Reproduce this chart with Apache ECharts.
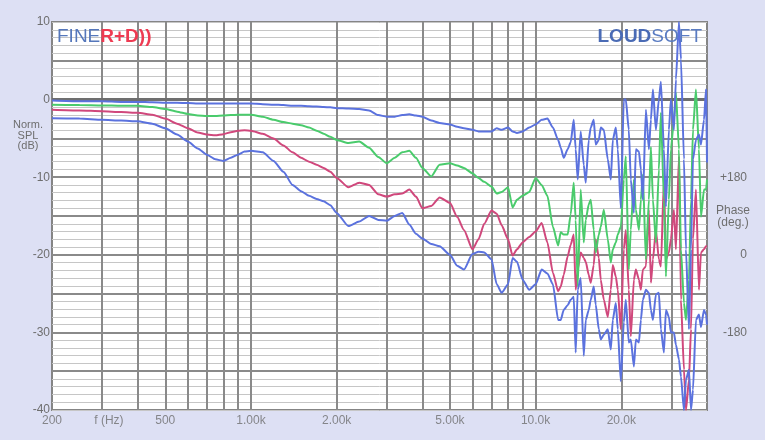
<!DOCTYPE html>
<html><head><meta charset="utf-8">
<script src="https://cdn.jsdelivr.net/npm/echarts@6/dist/echarts.min.js"></script>
<style>html,body{margin:0;padding:0;background:#dde0f4}#c{width:765px;height:440px}</style>
</head><body><div id="c"></div><script>
const freqs = [200,250,300,350,400,450,500,550,600,650,700,750,800,850,900,950,1000,1100,1200,1300,1400,1500,1600,1700,1800,1900,2000,2200,2400,2600,2800,3000,3200,3400,3600,3800,4000,4300,4600,5000,5300,5600,6000,6300,6600,7000,7300,7600,8000,8300,8600,9000,9500,10000,10500,11000,11500,12000,
12250,12550,12960,13280,13610,13830,14060,14400,14760,15000,15370,15620,16000,16260,16670,16940,17360,17930,18370,18670,19130,19440,19920,20410,20740,21250,21600,22140,22500,23060,23430,23810,24400,25000,25410,25830,26460,27100,27550,28230,28690,29390,29870,30610,31110,31880,32400,33200,33740,34570,35140,35710,36580,37480,38100,39040,39690,40000];

const blueTop = [-0.1,-0.2,-0.2,-0.3,-0.3,-0.35,-0.4,-0.4,-0.45,-0.5,
-0.5,-0.5,-0.5,-0.5,-0.5,-0.5,-0.5,-0.6,-0.65,-0.7,
-0.8,-0.8,-0.85,-0.9,-0.95,-1.0,-1.1,-1.15,-1.2,-1.4,
-2.0,-2.2,-2.2,-2.0,-1.9,-2.05,-2.2,-2.7,-3.0,-3.2,
-3.5,-3.7,-3.9,-4.1,-4.1,-4.1,-3.7,-3.9,-3.6,-4.1,
-4.3,-4.1,-3.6,-3.2,-2.6,-2.45,-3.6,-5.2,
-6.2,-7.5,-6.4,-5.5,-2.6,-6.4,-10.3,-4.1,-8.4,-10.7,
-5.2,-3.6,-2.6,-5.8,-5.2,-3.6,-3.9,-7.7,-10.3,-5.2,
-3.6,-6.4,-14.0,0,0,-3.9,-10.3,-14.6,-6.4,-6.7,
-9.0,-12.9,-1.3,-6.4,-2.6,1.3,-3.9,0,2.3,-6.4,
-13.8,-3.9,0,-3.9,2.6,10,5.2,-7.7,-19.3,-29.6,
-19.3,-7.7,-5.2,-4.5,-5.8,-2.6,1.3,-8.1];

const green = [-0.65,-0.7,-0.75,-0.8,-0.8,-0.95,-1.2,-1.55,-1.85,-2.05,
-2.1,-2.1,-2.05,-2.0,-1.95,-1.95,-1.95,-2.2,-2.6,-2.9,
-3.1,-3.3,-3.6,-4.0,-4.4,-4.8,-5.2,-5.6,-5.4,-6.2,
-7.4,-8.2,-7.5,-6.8,-6.6,-7.5,-8.8,-9.9,-8.4,-8.2,
-8.5,-8.8,-9.5,-10.1,-10.6,-11.2,-12.1,-11.9,-11.3,-13.9,
-12.9,-12.4,-11.9,-10.1,-11.0,-12.4,-16.4,-18.8,
-17.1,-17.4,-17.4,-14.8,-10.7,-15.5,-24.1,-11.6,-18.4,-15.5,
-13.5,-12.9,-16.8,-19.7,-17.4,-16.4,-14.2,-18.0,-21.0,-19.3,
-18.4,-17.4,-16.4,-10.3,-7.3,-21.9,-16.8,-10.3,-14.2,-16.8,
-12.9,-9.7,-20.6,-12.9,-6.1,-12.9,-18.4,-9.0,-1.7,-12.9,
-22.8,-12.9,-6.4,-2.6,0.9,-6.4,-19.3,-26.2,-28.4,-23.2,
-12.9,-3.9,1.3,-6.4,-15.1,-11.6,-11.6,-10.3];

const red = [-1.3,-1.4,-1.5,-1.6,-1.7,-1.95,-2.45,-3.1,-3.7,-4.25,
-4.5,-4.6,-4.45,-4.2,-4.0,-3.95,-4.0,-4.4,-5.0,-5.9,
-6.8,-7.5,-8.0,-8.4,-8.8,-9.3,-10.1,-11.3,-10.7,-11.0,
-12.2,-12.5,-12.2,-12.1,-11.6,-12.5,-14.0,-13.7,-12.6,-13.3,
-15.1,-16.8,-19.3,-18.0,-16.0,-14.3,-14.7,-16.2,-18.0,-20.1,
-19.3,-18.4,-17.7,-17.0,-15.9,-18.4,-22.3,-24.7,
-24.1,-22.6,-20.2,-18.7,-17.4,-24.5,-21.9,-19.7,-20.4,-20.9,
-22.6,-23.6,-21.3,-18.0,-20.4,-23.2,-25.8,-28.0,-24.5,-21.3,
-22.8,-24.5,-29.6,-19.3,-16.8,-24.5,-30.5,-23.2,-21.9,-23.2,
-24.5,-21.9,-21.5,-14.2,-23.6,-20.6,-16.8,-20.6,-21.5,-10.3,
-20.6,-19.7,-18.0,-14.2,-19.3,-7.3,-25.8,-34.8,-40,-36.1,
-29.6,-18.0,-11.6,-24.5,-19.7,-19.3,-18.9,-18.9];

const blueLow = [-2.4,-2.45,-2.6,-2.7,-2.8,-3.1,-3.7,-4.5,-5.4,-6.3,
-7.1,-7.7,-7.9,-7.5,-7.1,-6.7,-6.6,-6.8,-7.9,-9.3,
-11.0,-11.8,-12.4,-12.8,-13.1,-13.6,-14.6,-16.3,-15.7,-15.0,
-15.5,-15.6,-15.0,-14.6,-16.1,-17.3,-17.9,-18.6,-18.9,-20.0,
-21.4,-21.9,-19.9,-19.6,-19.7,-20.6,-23.8,-24.9,-23.8,-20.4,
-20.9,-23.2,-24.5,-23.8,-21.9,-22.4,-23.8,-28.4,
-28.4,-27.1,-26.5,-25.8,-25.4,-32.6,-24.5,-23.0,-33.0,-28.4,
-27.1,-25.8,-24.1,-26.4,-29.6,-30.9,-30.3,-29.6,-32.2,-28.4,
-26.2,-29.6,-36.3,-28.7,-25.8,-31.3,-30.9,-34.4,-30.9,-31.3,
-28.4,-25.8,-24.5,-24.9,-27.1,-28.4,-25.1,-24.9,-29.6,-32.6,
-27.1,-28.0,-30.0,-30.0,-31.6,-33.5,-35.7,-40,-36.1,-34.8,
-40,-37.4,-28.4,-27.7,-29.3,-27.1,-27.7,-29.0];

const xTickFreqs = [200, 317, 500, 1000, 2000, 5000, 10000, 20000];
const xTickLabels = ['200', 'f (Hz)', '500', '1.00k', '2.00k', '5.00k', '10.0k', '20.0k'];
const vGridFreqs = [300,400,500,600,700,800,900,1000,2000,3000,4000,5000,6000,7000,8000,9000,10000,20000,30000];
const hMajor = [-35,-30,-25,-20,-15,-10,-5,5];
const phaseTicks = {180: '+180', 0: '0', '-180': '-180'};

const pair = arr => freqs.map((f, i) => [f, arr[i]]);
const font = '"Liberation Sans", Arial, sans-serif';
const chart = echarts.init(document.getElementById('c'), null, {renderer: 'canvas'});

const curve = (name, arr, color) => ({
  name, type: 'line', data: pair(arr), showSymbol: false, smooth: 0.2, smoothMonotone: 'x',
  lineStyle: {color, width: 2}, z: 5, clip: true, animation: false
});

chart.setOption({
  backgroundColor: '#dde0f4',
  animation: false,
  grid: {left: 52, right: 58, top: 22, bottom: 30, show: true, backgroundColor: '#ffffff', borderColor: '#858585', borderWidth: 2, z: 0},
  xAxis: {type: 'log', logBase: 10, min: 200, max: 40000,
    axisLine: {show: false}, axisTick: {show: false}, axisLabel: {show: false}, splitLine: {show: false}, minorSplitLine: {show: false}},
  yAxis: [
    {type: 'value', min: -40, max: 10, interval: 1,
      axisLine: {show: false}, axisTick: {show: false},
      axisLabel: {margin: 2, color: '#6e6e6e', fontSize: 12, fontFamily: font,
        formatter: v => (v % 10 === 0 ? String(v) : '')},
      splitLine: {show: true, lineStyle: {color: '#c6c6c6', width: 1}}},
    {type: 'value', min: -360, max: 540, interval: 180, position: 'right',
      axisLine: {show: false}, axisTick: {show: false}, splitLine: {show: false},
      axisLabel: {margin: 40, align: 'right', color: '#6e6e6e', fontSize: 12, fontFamily: font,
        formatter: v => (phaseTicks[v] !== undefined ? phaseTicks[v] : '')}}
  ],
  graphic: [
    {type: 'text', left: 57, top: 27, z: 10, style: {
      rich: {a: {fill: '#5577bb', fontSize: 19, fontFamily: font}, b: {fill: '#ee3b52', fontSize: 19, fontWeight: 'bold', fontFamily: font}},
      text: '{a|FINE}{b|R+D))}'}},
    {type: 'text', right: 63, top: 27, z: 10, style: {
      rich: {a: {fill: '#4a6bb5', fontSize: 19, fontWeight: 'bold', fontFamily: font}, b: {fill: '#5a7cc2', fontSize: 19, fontFamily: font}},
      text: '{a|LOUD}{b|SOFT}'}},
    {type: 'text', x: 28, y: 120, z: 10, style: {text: 'Norm.\nSPL\n(dB)', fill: '#6e6e6e', fontSize: 11, fontFamily: font, align: 'center', lineHeight: 10.5}},
    {type: 'text', x: 733, y: 205, z: 10, style: {text: 'Phase\n(deg.)', fill: '#6e6e6e', fontSize: 12, fontFamily: font, align: 'center', lineHeight: 12}}
  ],
  series: [
    {type: 'line', data: [], z: 1, silent: true, animation: false,
      markLine: {silent: true, symbol: 'none', animation: false, label: {show: false},
        lineStyle: {color: '#8a8a8a', width: 2, type: 'solid'},
        data: vGridFreqs.map(f => ({xAxis: f})).concat(hMajor.map(v => ({yAxis: v})))
          .concat([{yAxis: 0, lineStyle: {color: '#6f6f6f', width: 3, type: 'solid'}}])}},
    curve('red', red, '#d0487c'),
    curve('green', green, '#4acb6c'),
    curve('blueLow', blueLow, '#5b72de'),
    curve('blueTop', blueTop, '#5b72de'),
    {type: 'scatter', data: xTickFreqs.map((f, i) => [f, -40, xTickLabels[i]]), symbolSize: 0, clip: false, silent: true, z: 6,
      label: {show: true, position: 'bottom', distance: 5, color: '#6e6e6e', fontSize: 12, fontFamily: font,
        formatter: p => p.data[2]}}
  ]
});
</script></body></html>
